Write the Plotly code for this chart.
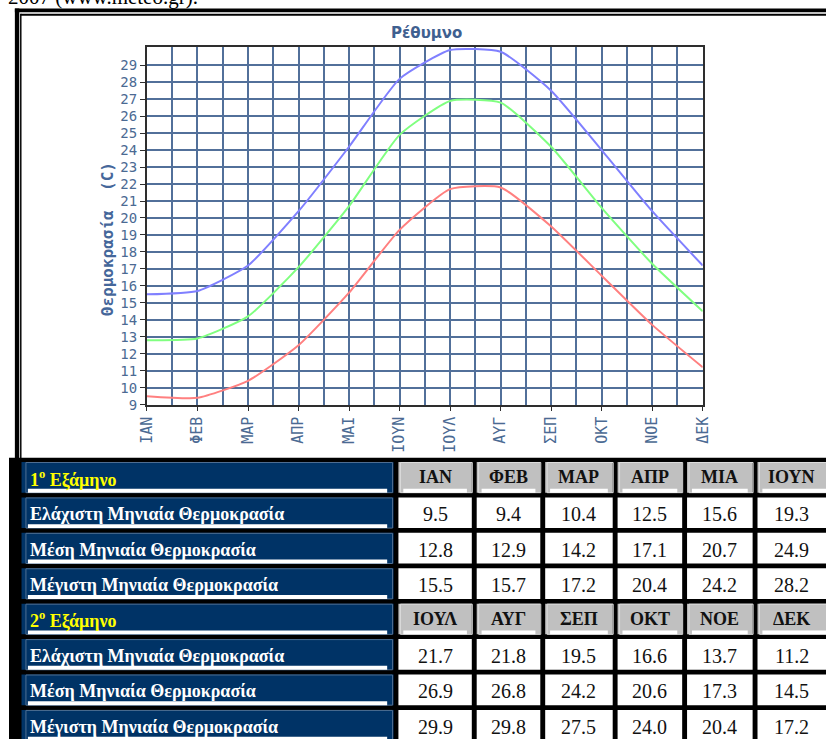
import plotly.graph_objects as go

# ---------------- data ----------------
chart_months = ["ΙΑΝ", "ΦΕΒ", "ΜΑΡ", "ΑΠΡ", "ΜΑΙ", "ΙΟΥΝ", "ΙΟΥΛ", "ΑΥΓ", "ΣΕΠ", "ΟΚΤ", "ΝΟΕ", "ΔΕΚ"]
table_months_h1 = ["ΙΑΝ", "ΦΕΒ", "ΜΑΡ", "ΑΠΡ", "ΜΙΑ", "ΙΟΥΝ"]
table_months_h2 = ["ΙΟΥΛ", "ΑΥΓ", "ΣΕΠ", "ΟΚΤ", "ΝΟΕ", "ΔΕΚ"]
t_min = [9.5, 9.4, 10.4, 12.5, 15.6, 19.3, 21.7, 21.8, 19.5, 16.6, 13.7, 11.2]
t_mean = [12.8, 12.9, 14.2, 17.1, 20.7, 24.9, 26.9, 26.8, 24.2, 20.6, 17.3, 14.5]
t_max = [15.5, 15.7, 17.2, 20.4, 24.2, 28.2, 29.9, 29.8, 27.5, 24.0, 20.4, 17.2]
y_ticks = list(range(9, 30))
row_labels = ["Ελάχιστη Μηνιαία Θερμοκρασία", "Μέση Μηνιαία Θερμοκρασία", "Μέγιστη Μηνιαία Θερμοκρασία"]
half_labels = ["1<sup>ο</sup> Εξάμηνο", "2<sup>ο</sup> Εξάμηνο"]
chart_title = "Ρέθυμνο"
y_title = "Θερμοκρασία  (C)"
top_text = "2007 (www.meteo.gr)."

# ---------------- layout constants ----------------
W, H = 835, 747
PX0, PX1, PY0, PY1 = 141, 709, 48, 409  # plot area in pixels
GRID = "#52709a"
TICKC = "#4b6a93"
AXC = "#2e2e2e"
NAVY = "#003366"
GRAY = "#c0c0c0"
SERIF = "Liberation Serif"

fig = go.Figure()

x_idx = list(range(len(chart_months)))
for vals, col in [(t_min, "#ff8080"), (t_mean, "#80ff80"), (t_max, "#8080ff")]:
    fig.add_trace(go.Scatter(x=x_idx, y=vals, mode="lines",
                             line=dict(color=col, width=2, shape="spline", smoothing=0.5),
                             hoverinfo="skip", showlegend=False, cliponaxis=False,
                             xaxis="x", yaxis="y"))

fig.update_layout(
    width=W, height=H,
    margin=dict(l=0, r=0, t=0, b=0),
    paper_bgcolor="white", plot_bgcolor="rgba(0,0,0,0)",
    showlegend=False,
    xaxis=dict(domain=[PX0 / W, PX1 / W], range=[0, 11], anchor="y",
               tickmode="array", tickvals=x_idx, ticktext=chart_months, tickangle=-90,
               ticks="outside", ticklen=4, tickwidth=1, tickcolor=AXC,
               tickfont=dict(family="DejaVu Sans Mono", size=15, color=TICKC),
               showgrid=True, gridcolor=GRID, gridwidth=2,
               minor=dict(tickmode="linear", tick0=0.5, dtick=1, showgrid=True,
                          gridcolor=GRID, gridwidth=2, ticks=""),
               showline=True, mirror=True, linecolor=AXC, linewidth=2,
               zeroline=False, fixedrange=True),
    yaxis=dict(domain=[1 - PY1 / H, 1 - PY0 / H], range=[9, 30.05], anchor="x",
               tickmode="array", tickvals=y_ticks,
               ticks="outside", ticklen=5, tickwidth=1, tickcolor=AXC,
               tickfont=dict(family="DejaVu Sans Mono", size=14, color=TICKC),
               showgrid=True, gridcolor=GRID, gridwidth=2,
               showline=True, mirror=True, linecolor=AXC, linewidth=2,
               zeroline=False, fixedrange=True),
    # pixel-unit overlay axes for the frame and the table
    xaxis2=dict(domain=[0, 1], range=[0, W], anchor="y2", visible=False, fixedrange=True),
    yaxis2=dict(domain=[0, 1], range=[H, 0], anchor="x2", visible=False, fixedrange=True),
)

shapes = []
ann = []

def rect(x0, y0, x1, y1, fill=None, line=None, lw=0):
    d = dict(type="rect", xref="x2", yref="y2", x0=x0, y0=y0, x1=x1, y1=y1,
             layer="above", line=dict(width=lw, color=line or "rgba(0,0,0,0)"))
    if fill:
        d["fillcolor"] = fill
    shapes.append(d)

# outer frame
rect(6, 8.5, W + 5, 12.5, fill="black")
rect(12, 13.8, W + 5, 15.8, fill="black")
rect(6, 8.5, 10.5, H + 5, fill="black")
rect(11.3, 13.8, 12.8, H + 5, fill="black")

# ---------------- table ----------------
TAB_TOP = 462.7
ROW0 = 467.0
PITCH = 35.8
CELL_H = 31.0
LAB_X0, LAB_X1 = 12.8, 393.0
col_x0 = [398, 478, 548, 622, 693, 765]
col_x1 = [473, 543, 617, 688, 760, W + 10]

rect(0, TAB_TOP, W + 5, H + 5, fill="black")

rows = []
for h, (mlist, sl) in enumerate([(table_months_h1, slice(0, 6)), (table_months_h2, slice(6, 12))]):
    rows.append(("head", half_labels[h], mlist))
    for lab, series in zip(row_labels, [t_min, t_mean, t_max]):
        rows.append(("data", lab, [f"{v:.1f}" for v in series[sl]]))

for r, (kind, lab, cells) in enumerate(rows):
    y0 = ROW0 + r * PITCH
    y1 = y0 + CELL_H
    yc = (y0 + y1) / 2
    # label cell
    rect(LAB_X0, y0, LAB_X1, y1, fill=NAVY)
    rect(LAB_X0 + 4.5, y0 + 0.5, LAB_X1 - 1, y1, line="#4f6f92", lw=1)
    rect(LAB_X0 + 6.5, y1 - 4, LAB_X1 - 6.5, y1, fill="white")
    ann.append(dict(xref="x2", yref="y2", x=LAB_X0 + 7, y=yc + 1.5, xanchor="left", yanchor="middle",
                    text=lab, showarrow=False,
                    font=dict(family=SERIF, size=18, weight="bold",
                              color="#ffff00" if kind == "head" else "white")))
    for c, txt in enumerate(cells):
        cx0, cx1 = col_x0[c], col_x1[c]
        if kind == "head":
            rect(cx0, y0, cx1, y1, fill=GRAY)
            rect(cx0 + 2, y0 + 0.5, cx1 + 0.5, y1, line="#dcdcdc", lw=1)
            rect(cx0 + 5, y1 - 4, cx1 - 5, y1, fill="white")
            ann.append(dict(xref="x2", yref="y2", x=(cx0 + min(cx1, W)) / 2, y=yc, xanchor="center",
                            yanchor="middle", text=txt, showarrow=False,
                            font=dict(family=SERIF, size=18, weight="bold", color="#111111")))
        else:
            rect(cx0, y0, cx1, y1, fill="white")
            ann.append(dict(xref="x2", yref="y2", x=(cx0 + min(cx1, W)) / 2, y=yc + 1.5, xanchor="center",
                            yanchor="middle", text=txt, showarrow=False,
                            font=dict(family=SERIF, size=20, color="#111111")))

# chart title and axis title
ann.append(dict(xref="paper", yref="paper", x=427 / W, y=1 - 33 / H, xanchor="center", yanchor="middle",
                text=chart_title, showarrow=False,
                font=dict(family="DejaVu Sans", size=15, weight="bold", color="#3f6090")))
ann.append(dict(xref="paper", yref="paper", x=101 / W, y=1 - 242 / H, xanchor="center", yanchor="middle",
                text=y_title, textangle=-90, showarrow=False,
                font=dict(family="DejaVu Sans Mono", size=16, weight="bold", color="#45679a")))
# cut-off caption at top of the page
ann.append(dict(xref="paper", yref="paper", x=-3 / W, y=1 - 11 / H, xanchor="left", yanchor="bottom",
                text=top_text, showarrow=False,
                font=dict(family=SERIF, size=21, color="black")))

fig.update_layout(shapes=shapes, annotations=ann)
fig.write_html("out.html", config={"displayModeBar": False, "staticPlot": True},
               post_script="document.body.style.margin='0';document.body.style.overflow='hidden';")
